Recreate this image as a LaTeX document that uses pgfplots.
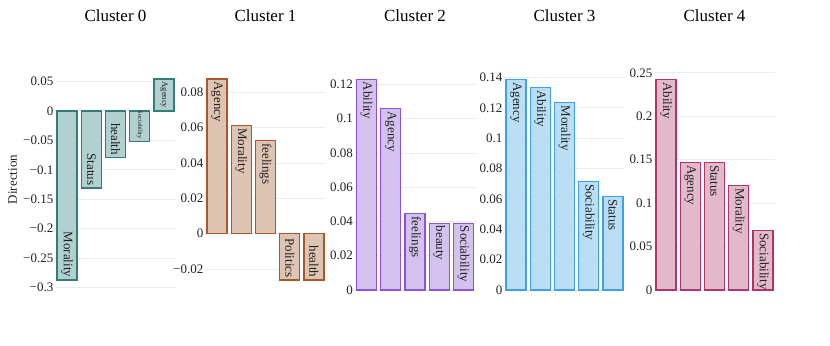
\documentclass[border=0pt]{standalone}
\usepackage{pgfplots}
\pgfplotsset{compat=1.18}
\usepackage{fontspec}
\setmainfont{Liberation Serif}
\definecolor{gridc}{RGB}{234,237,246}
\definecolor{txt}{RGB}{34,34,34}
\definecolor{f0}{RGB}{178,208,208}\definecolor{l0}{RGB}{50,125,120}
\definecolor{f1}{RGB}{222,196,178}\definecolor{l1}{RGB}{168,88,42}
\definecolor{f2}{RGB}{211,194,238}\definecolor{l2}{RGB}{140,82,220}
\definecolor{f3}{RGB}{185,222,246}\definecolor{l3}{RGB}{62,160,234}
\definecolor{f4}{RGB}{226,186,204}\definecolor{l4}{RGB}{178,52,102}
\newcommand{\fs}[1]{\fontsize{#1bp}{#1bp}\selectfont}
\pgfplotsset{
  clus/.style={
    scale only axis, width=121bp, height=221bp, anchor=south west,
    xmin=-0.5, xmax=4.5, xtick=\empty, scaled y ticks=false,
    axis line style={draw=none}, ymajorgrids, grid style={gridc, line width=0.8bp},
    major tick style={draw=none},
    ybar, bar width=0.826,
    yticklabel style={font=\fs{13}, inner sep=1.5bp, text=txt},
    title style={font=\fs{17}, at={(0.5,1)}, anchor=base, yshift=42bp, text=black},
    nodes near coords, point meta=explicit symbolic, clip=false,
  },
  pos/.style={bar shift=0pt, every node near coord/.append style={rotate=-90, anchor=west, inner sep=2bp, font=\fs{13}, text=txt}},
  neg/.style={bar shift=0pt, every node near coord/.append style={rotate=-90, anchor=east, inner sep=2bp, font=\fs{13}, text=txt}},
}
\begin{document}
\begin{tikzpicture}
\path[use as bounding box] (0,0) rectangle (830bp,346bp);
% Cluster 0
\begin{axis}[clus, at={(55bp,56bp)}, title={Cluster 0},
  ymin=-0.304, ymax=0.0711,
  ytick={-0.3,-0.25,-0.2,-0.15,-0.1,-0.05,0,0.05},
  yticklabels={−0.3,−0.25,−0.2,−0.15,−0.1,−0.05,0,0.05},
  ylabel={Direction},
  every axis y label/.style={at={(axis description cs:-0.351,0.5)}, rotate=90, anchor=center, font=\fs{13}, text=txt}]
\addplot[neg, fill=f0, draw=l0, line width=1.3bp] coordinates {
  (0,-0.287) [Morality]
  (1,-0.131) [Status]
  (2,-0.079) [health]
  (3,-0.052) [{\fs{6.5}Sociability}]
};
\addplot[pos, fill=f0, draw=l0, line width=1.3bp] coordinates {
  (4,0.054) [{\fs{8.5}Agency}]
};
\end{axis}
% Cluster 1
\begin{axis}[clus, at={(205bp,56bp)}, title={Cluster 1},
  ymin=-0.0319, ymax=0.0932,
  ytick={-0.02,0,0.02,0.04,0.06,0.08},
  yticklabels={−0.02,0,0.02,0.04,0.06,0.08}]
\addplot[pos, fill=f1, draw=l1, line width=1.3bp] coordinates {
  (0,0.0876) [Agency]
  (1,0.0613) [Morality]
  (2,0.0527) [feelings]
};
\addplot[neg, fill=f1, draw=l1, line width=1.3bp] coordinates {
  (3,-0.0263) [Politics]
  (4,-0.0263) [health]
};
\end{axis}
% Cluster 2
\begin{axis}[clus, at={(354.5bp,56bp)}, title={Cluster 2},
  ymin=0, ymax=0.129,
  ytick={0,0.02,0.04,0.06,0.08,0.1,0.12},
  yticklabels={0,0.02,0.04,0.06,0.08,0.1,0.12}]
\addplot[pos, fill=f2, draw=l2, line width=1.3bp] coordinates {
  (0,0.123) [Ability]
  (1,0.1058) [Agency]
  (2,0.0445) [feelings]
  (3,0.039) [beauty]
  (4,0.039) [Sociability]
};
\end{axis}
% Cluster 3
\begin{axis}[clus, at={(504bp,56bp)}, title={Cluster 3},
  ymin=0, ymax=0.1456,
  ytick={0,0.02,0.04,0.06,0.08,0.1,0.12,0.14},
  yticklabels={0,0.02,0.04,0.06,0.08,0.1,0.12,0.14}]
\addplot[pos, fill=f3, draw=l3, line width=1.3bp] coordinates {
  (0,0.1387) [Agency]
  (1,0.1332) [Ability]
  (2,0.1233) [Morality]
  (3,0.0715) [Sociability]
  (4,0.0616) [Status]
};
\end{axis}
% Cluster 4
\begin{axis}[clus, at={(654bp,56bp)}, title={Cluster 4},
  ymin=0, ymax=0.2544,
  ytick={0,0.05,0.1,0.15,0.2,0.25},
  yticklabels={0,0.05,0.1,0.15,0.2,0.25}]
\addplot[pos, fill=f4, draw=l4, line width=1.3bp] coordinates {
  (0,0.2423) [Ability]
  (1,0.1469) [Agency]
  (2,0.1469) [Status]
  (3,0.1203) [Morality]
  (4,0.0684) [Sociability]
};
\end{axis}
\end{tikzpicture}
\end{document}
